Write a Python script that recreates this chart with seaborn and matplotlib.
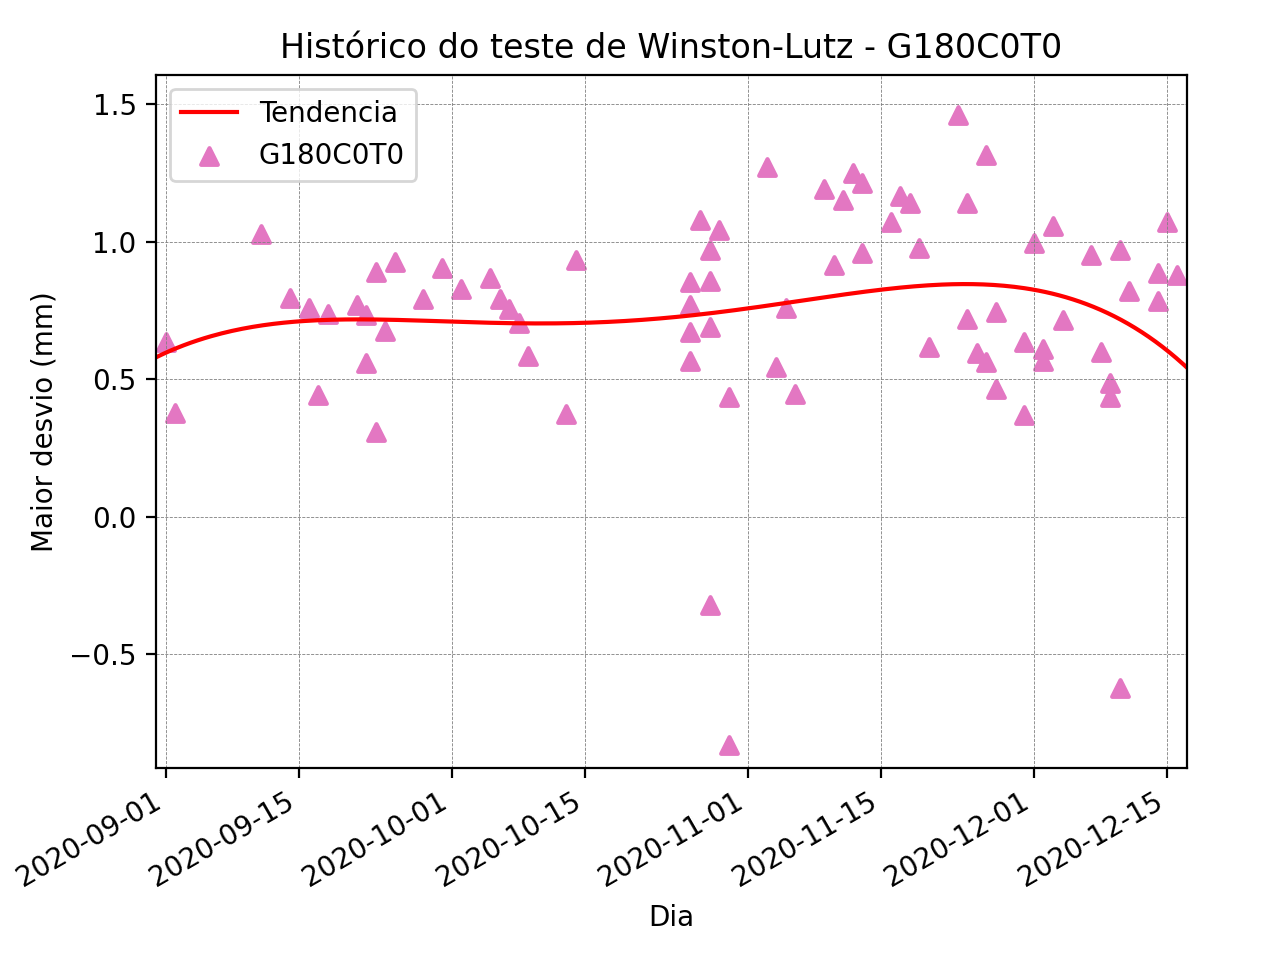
import matplotlib
matplotlib.use("Agg")
import matplotlib.pyplot as plt
import matplotlib.dates as mdates
import seaborn as sns
import numpy as np
import pandas as pd

# Winston-Lutz results
dates = [
    "2020-09-01", "2020-09-02", "2020-09-11", "2020-09-14", "2020-09-16",
    "2020-09-17", "2020-09-18", "2020-09-21", "2020-09-22", "2020-09-22",
    "2020-09-23", "2020-09-23", "2020-09-24", "2020-09-25", "2020-09-28",
    "2020-09-30", "2020-10-02", "2020-10-05", "2020-10-06", "2020-10-07",
    "2020-10-08", "2020-10-09", "2020-10-13", "2020-10-14", "2020-10-26",
    "2020-10-26", "2020-10-26", "2020-10-26", "2020-10-27", "2020-10-28",
    "2020-10-28", "2020-10-28", "2020-10-28", "2020-10-29", "2020-10-30",
    "2020-10-30", "2020-11-03", "2020-11-04", "2020-11-05", "2020-11-06",
    "2020-11-09", "2020-11-10", "2020-11-11", "2020-11-12", "2020-11-13",
    "2020-11-13", "2020-11-16", "2020-11-17", "2020-11-18", "2020-11-19",
    "2020-11-20", "2020-11-23", "2020-11-24", "2020-11-24", "2020-11-25",
    "2020-11-26", "2020-11-26", "2020-11-27", "2020-11-27", "2020-11-30",
    "2020-11-30", "2020-12-01", "2020-12-02", "2020-12-02", "2020-12-03",
    "2020-12-04", "2020-12-07", "2020-12-08", "2020-12-09", "2020-12-09",
    "2020-12-10", "2020-12-10", "2020-12-11", "2020-12-14", "2020-12-14",
    "2020-12-15", "2020-12-16",
]
desvio = [
    0.636, 0.378, 1.029, 0.796, 0.760,
    0.444, 0.738, 0.771, 0.735, 0.560,
    0.891, 0.309, 0.676, 0.927, 0.793,
    0.905, 0.829, 0.869, 0.793, 0.756,
    0.705, 0.585, 0.375, 0.935, 0.855,
    0.771, 0.673, 0.567, 1.080, 0.971,
    0.858, 0.691, -0.320, 1.044, 0.436,
    -0.829, 1.273, 0.545, 0.760, 0.447,
    1.193, 0.916, 1.153, 1.251, 1.215,
    0.960, 1.073, 1.167, 1.142, 0.978,
    0.618, 1.462, 1.142, 0.720, 0.596,
    1.316, 0.564, 0.745, 0.465, 0.636,
    0.371, 0.996, 0.611, 0.567, 1.058,
    0.716, 0.953, 0.600, 0.487, 0.436,
    0.971, -0.622, 0.822, 0.887, 0.785,
    1.073, 0.880,
]
serie = "G180C0T0"

df = pd.DataFrame({"Dia": pd.to_datetime(dates), "desvio": desvio})

# polynomial trend over the whole period
xnum = mdates.date2num(df["Dia"])
coef = np.polyfit(xnum, df["desvio"], 4)
x0 = df["Dia"].min() - pd.Timedelta(days=1)
x1 = df["Dia"].max() + pd.Timedelta(days=1)
xs = pd.date_range(x0, x1, periods=300)
trend = pd.DataFrame({"Dia": xs, "desvio": np.polyval(coef, mdates.date2num(xs))})

fig, ax = plt.subplots(figsize=(6.4, 4.8), dpi=200)
sns.lineplot(data=trend, x="Dia", y="desvio", color="red", linewidth=1.5,
             label="Tendencia", ax=ax)
sns.scatterplot(data=df, x="Dia", y="desvio", marker="^", color="tab:pink",
                edgecolor="tab:pink", linewidth=1.5, s=36, label=serie, ax=ax)

ax.set_xlim(x0, x1)
ax.set_ylim(-0.913, 1.607)
ax.grid(True, color="gray", linestyle="--", linewidth=0.3)
ax.set_title("Histórico do teste de Winston-Lutz - " + serie)
ax.set_xlabel("Dia")
ax.set_ylabel("Maior desvio (mm)")
ax.legend(loc="upper left")
fig.autofmt_xdate()
fig.subplots_adjust(left=0.122, right=0.927, top=0.922, bottom=0.2)
fig.savefig("out.png")
